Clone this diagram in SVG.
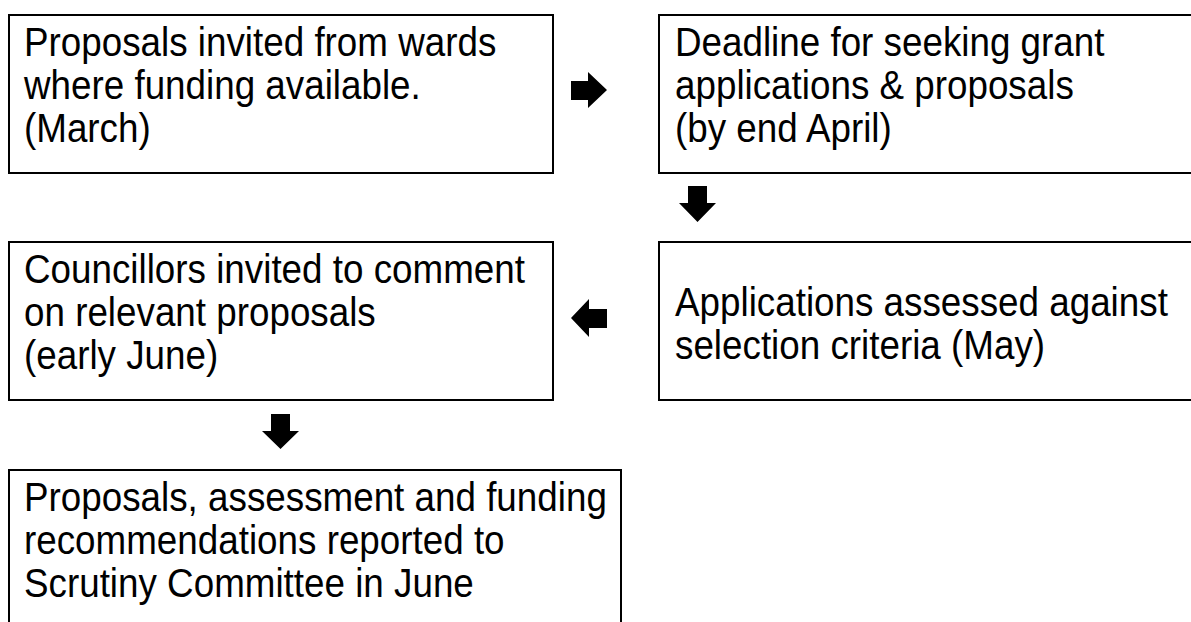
<svg xmlns="http://www.w3.org/2000/svg" width="1191" height="622" viewBox="0 0 1191 622">
<style>
.box{fill:#fff;stroke:#000;stroke-width:2}
.t{font-family:"Liberation Sans",Arial,sans-serif;font-size:40px;fill:#000}
.arr{fill:#000;stroke:none}
</style>
<rect width="1191" height="622" fill="#fff"/>
<g id="n1">
<rect class="box" x="9" y="15" width="544" height="158"/>
<text class="t" transform="matrix(0.92 0 0 1 24 56)">Proposals invited from wards</text>
<text class="t" transform="matrix(0.92 0 0 1 24 99)">where funding available.</text>
<text class="t" transform="matrix(0.92 0 0 1 24 142)">(March)</text>
</g>
<g id="n2">
<rect class="box" x="659" y="15" width="560" height="158"/>
<text class="t" transform="matrix(0.92 0 0 1 675 56)">Deadline for seeking grant</text>
<text class="t" transform="matrix(0.92 0 0 1 675 99)">applications &amp; proposals</text>
<text class="t" transform="matrix(0.92 0 0 1 675 142)">(by end April)</text>
</g>
<g id="n3">
<rect class="box" x="659" y="242" width="560" height="158"/>
<text class="t" transform="matrix(0.92 0 0 1 675 316)">Applications assessed against</text>
<text class="t" transform="matrix(0.92 0 0 1 675 359)">selection criteria (May)</text>
</g>
<g id="n4">
<rect class="box" x="9" y="242" width="544" height="158"/>
<text class="t" transform="matrix(0.92 0 0 1 24 283)">Councillors invited to comment</text>
<text class="t" transform="matrix(0.92 0 0 1 24 326)">on relevant proposals</text>
<text class="t" transform="matrix(0.92 0 0 1 24 369)">(early June)</text>
</g>
<g id="n5">
<rect class="box" x="9" y="470" width="612" height="160"/>
<text class="t" transform="matrix(0.92 0 0 1 24 511)">Proposals, assessment and funding</text>
<text class="t" transform="matrix(0.92 0 0 1 24 554)">recommendations reported to</text>
<text class="t" transform="matrix(0.92 0 0 1 24 597)">Scrutiny Committee in June</text>
</g>
<g id="connectors">
<polygon class="arr" points="571,81 588,81 588,72 607,90 588,108 588,100 571,100"/>
<polygon class="arr" points="688,186 707,186 707,203 716,203 697.5,222 679,203 688,203"/>
<polygon class="arr" points="607,309 589,309 589,299 571,318 589,337 589,328 607,328"/>
<polygon class="arr" points="271,414 290,414 290,431 299,431 280.5,449 262,431 271,431"/>
</g>
</svg>
